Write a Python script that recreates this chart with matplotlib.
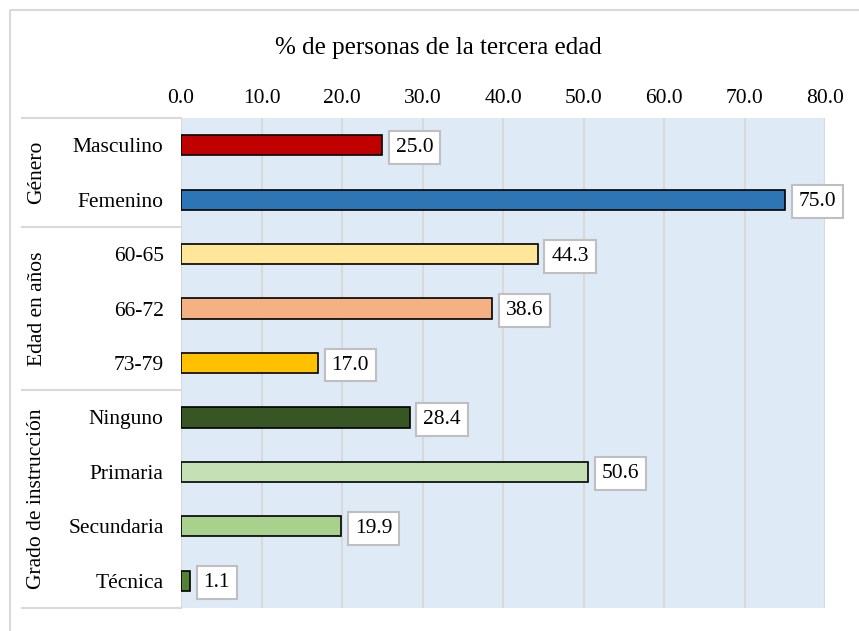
import matplotlib
matplotlib.use("Agg")
import matplotlib.pyplot as plt
from matplotlib.lines import Line2D
from matplotlib.transforms import blended_transform_factory, offset_copy

# data
categorias = ["Masculino", "Femenino", "60-65", "66-72", "73-79",
              "Ninguno", "Primaria", "Secundaria", "Técnica"]
valores = [25.0, 75.0, 44.3, 38.6, 17.0, 28.4, 50.6, 19.9, 1.1]
colores = ["#C00000", "#2E75B6", "#FFE699", "#F4B183", "#FFC000",
           "#375623", "#C5E0B4", "#A9D18E", "#548235"]
grupos = ["Género", "Edad en años", "Grado de instrucción"]
grupo_filas = [(0, 1), (2, 4), (5, 8)]
ticks = [0, 10, 20, 30, 40, 50, 60, 70, 80]
titulo = "% de personas de la tercera edad"

plt.rcParams['font.family'] = ['Liberation Serif', 'DejaVu Serif']
fs = 15.5

W, H = 859, 631
fig = plt.figure(figsize=(W / 100, H / 100), dpi=100)
ax = fig.add_axes([181 / W, 1 - 608 / H, (825 - 181) / W, (608 - 118) / H])
ax.set_facecolor("#DEEBF7")

y = list(range(len(categorias)))
ax.barh(y, valores, height=0.37, color=colores, edgecolor="black", linewidth=1.2, zorder=3)

# etiquetas de valor en caja blanca
txt_tr = offset_copy(ax.transData, fig=fig, x=0, y=-2, units="dots")
for i, v in enumerate(valores):
    ax.text(v + 1.7, i, f"{v:.1f}", va="center", ha="left", fontsize=fs, zorder=4,
            transform=txt_tr,
            bbox=dict(boxstyle="square,pad=0.32", fc="white", ec="#BFBFBF", lw=1.5))

ax.set_xlim(0, 80)
ax.set_ylim(8.5, -0.5)
ax.set_xticks(ticks)
ax.set_xticklabels([f"{t:.1f}" for t in ticks], fontsize=fs)
ax.xaxis.tick_top()
ax.tick_params(axis="x", length=0, pad=7)
ax.set_yticks(y)
ax.set_yticklabels(categorias, fontsize=fs)
ax.tick_params(axis="y", length=0, pad=12.5)
ax.grid(axis="x", color="#D9D9D9", linewidth=1.5, zorder=0)
ax.set_axisbelow(True)
for s in ax.spines.values():
    s.set_visible(False)
ax.axvline(0, color="#D9D9D9", lw=1.5, zorder=1)
ax.axvline(80, color="#D9D9D9", lw=1.5, zorder=1)

# separadores de grupos a la izquierda
tr = blended_transform_factory(fig.transFigure, ax.transData)
for yy in [-0.5, 1.5, 4.5, 8.5]:
    fig.add_artist(Line2D([22 / W, 181 / W], [yy, yy], transform=tr,
                          color="#D9D9D9", lw=1.5, clip_on=False))
for g, (a, b) in zip(grupos, grupo_filas):
    fig.text(37 / W, (a + b) / 2, g, transform=tr, rotation=90,
             ha="center", va="center", fontsize=fs)

fig.text(438 / W, 1 - 48 / H, titulo, ha="center", va="center", fontsize=18)

# marco del grafico
fig.add_artist(Line2D([9.5 / W, 9.5 / W, 1.0], [0.0, 1 - 10 / H, 1 - 10 / H],
                      transform=fig.transFigure, color="#D9D9D9", lw=1.5))

fig.savefig("out.png", dpi=100)
